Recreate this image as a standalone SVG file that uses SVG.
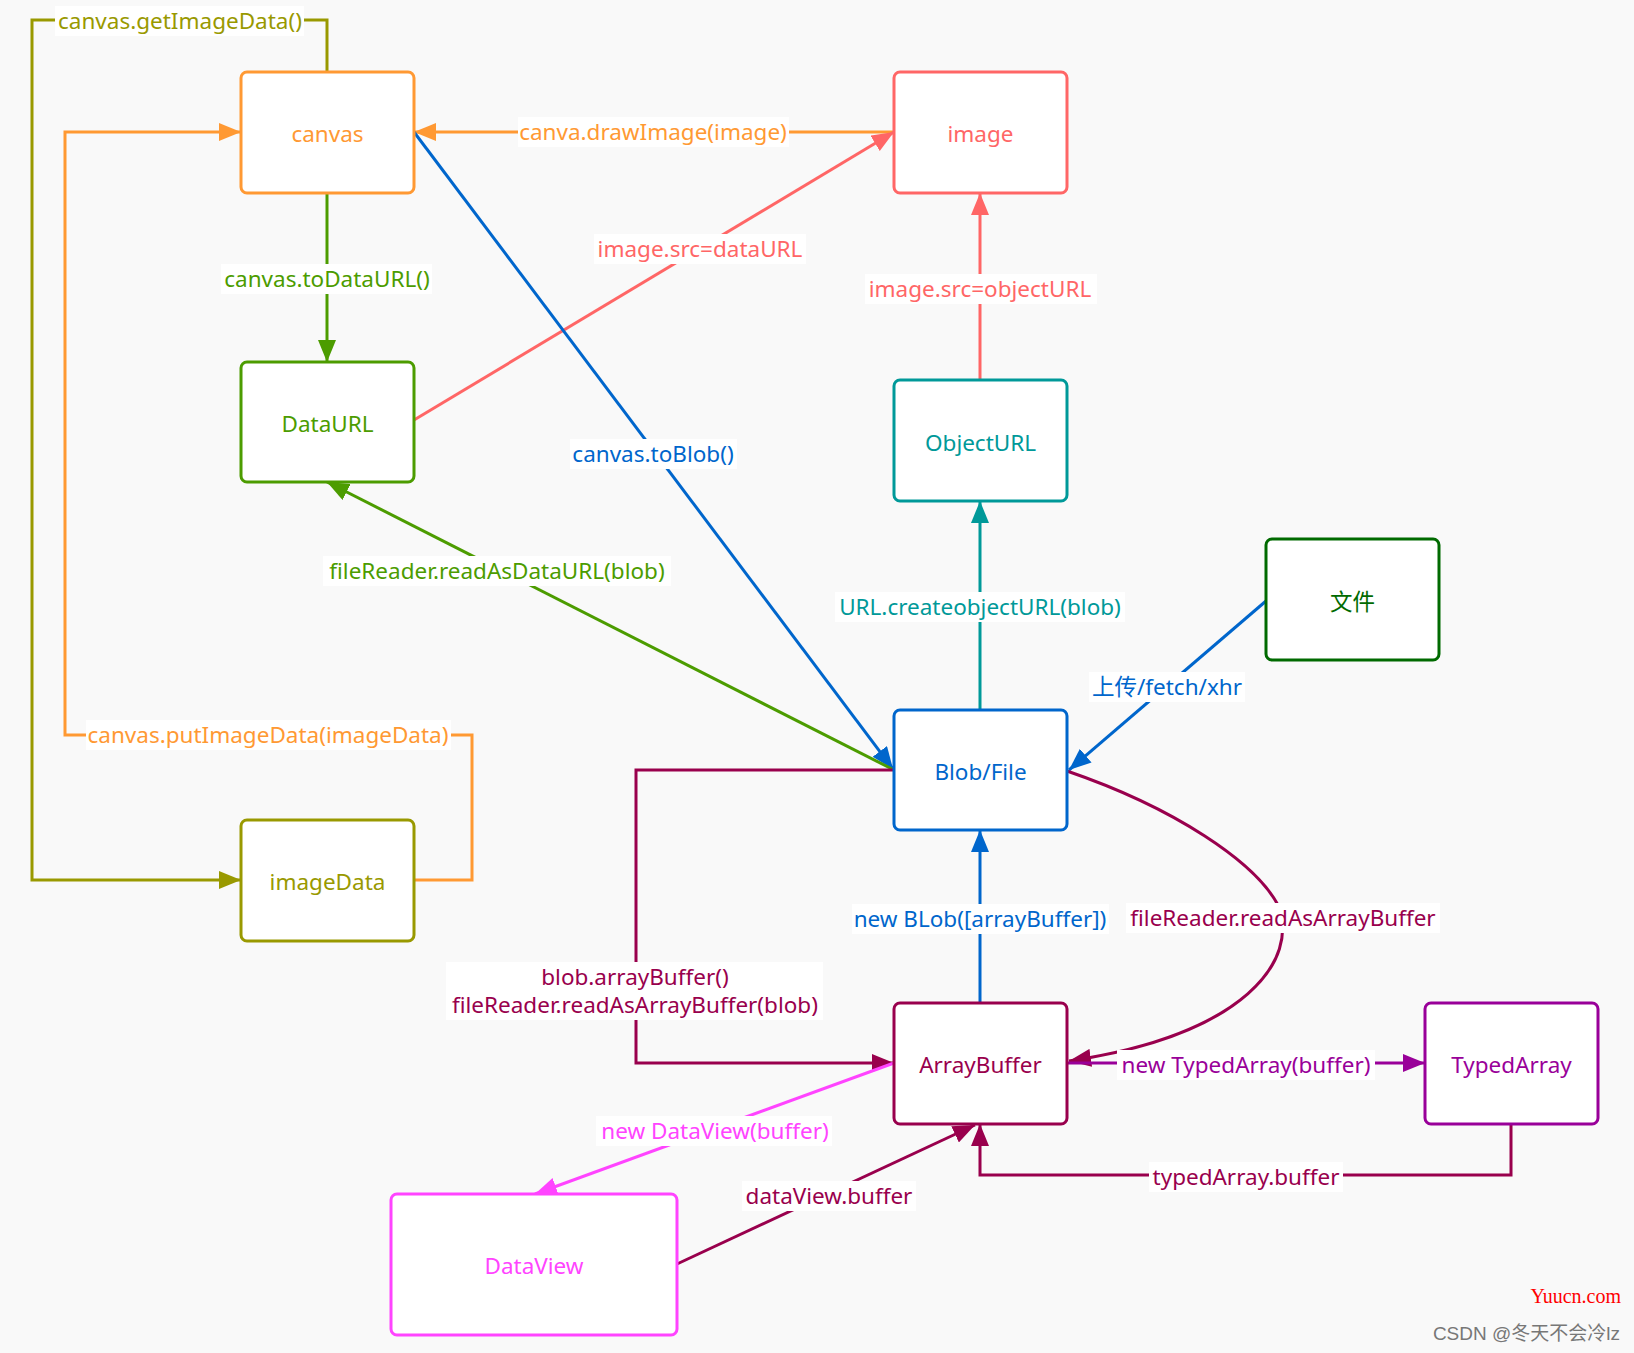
<svg xmlns="http://www.w3.org/2000/svg" width="1634" height="1353" viewBox="0 0 1634 1353">
<style>
.node rect{fill:#fff;stroke-width:3}
.node text{font-family:"Noto Sans","Noto Sans CJK SC",sans-serif;font-size:22.5px;text-anchor:middle}
.c path,.c line,.c polyline{fill:none;stroke-width:3}
.lbl{font-family:"Noto Sans","Noto Sans CJK SC",sans-serif;font-size:22.5px;text-anchor:middle}
.bg{fill:#fff}
</style>
<defs>
<marker id="aOr" markerUnits="userSpaceOnUse" markerWidth="22" markerHeight="18" refX="22" refY="9" orient="auto"><path d="M0,0 L22,9 L0,18 z" fill="#ff9933"/></marker>
<marker id="aOl" markerUnits="userSpaceOnUse" markerWidth="22" markerHeight="18" refX="22" refY="9" orient="auto"><path d="M0,0 L22,9 L0,18 z" fill="#999900"/></marker>
<marker id="aGr" markerUnits="userSpaceOnUse" markerWidth="22" markerHeight="18" refX="22" refY="9" orient="auto"><path d="M0,0 L22,9 L0,18 z" fill="#4c9c00"/></marker>
<marker id="aRd" markerUnits="userSpaceOnUse" markerWidth="22" markerHeight="18" refX="22" refY="9" orient="auto"><path d="M0,0 L22,9 L0,18 z" fill="#ff6666"/></marker>
<marker id="aBl" markerUnits="userSpaceOnUse" markerWidth="22" markerHeight="18" refX="22" refY="9" orient="auto"><path d="M0,0 L22,9 L0,18 z" fill="#0066cc"/></marker>
<marker id="aTl" markerUnits="userSpaceOnUse" markerWidth="22" markerHeight="18" refX="22" refY="9" orient="auto"><path d="M0,0 L22,9 L0,18 z" fill="#009999"/></marker>
<marker id="aCr" markerUnits="userSpaceOnUse" markerWidth="22" markerHeight="18" refX="22" refY="9" orient="auto"><path d="M0,0 L22,9 L0,18 z" fill="#99004d"/></marker>
<marker id="aPu" markerUnits="userSpaceOnUse" markerWidth="22" markerHeight="18" refX="22" refY="9" orient="auto"><path d="M0,0 L22,9 L0,18 z" fill="#990099"/></marker>
<marker id="aMg" markerUnits="userSpaceOnUse" markerWidth="22" markerHeight="18" refX="22" refY="9" orient="auto"><path d="M0,0 L22,9 L0,18 z" fill="#ff44ff"/></marker>
</defs>
<rect x="0" y="0" width="1634" height="1353" fill="#f9f9f9"/>

<g id="connectors" class="c">
  <polyline points="327,72 327,20 32,20 32,880 241,880" stroke="#999900" marker-end="url(#aOl)"/>
  <polyline points="414,880 472,880 472,735 65,735 65,132 241,132" stroke="#ff9933" marker-end="url(#aOr)"/>
  <line x1="894" y1="132" x2="414" y2="132" stroke="#ff9933" marker-end="url(#aOr)"/>
  <line x1="327" y1="193" x2="327" y2="362" stroke="#4c9c00" marker-end="url(#aGr)"/>
  <line x1="414" y1="420" x2="894" y2="132" stroke="#ff6666" marker-end="url(#aRd)"/>
  <line x1="414" y1="132" x2="893" y2="769" stroke="#0066cc" marker-end="url(#aBl)"/>
  <line x1="894" y1="770" x2="327" y2="482" stroke="#4c9c00" marker-end="url(#aGr)"/>
  <line x1="980" y1="380" x2="980" y2="193" stroke="#ff6666" marker-end="url(#aRd)"/>
  <line x1="980" y1="710" x2="980" y2="501" stroke="#009999" marker-end="url(#aTl)"/>
  <line x1="1266" y1="601" x2="1069" y2="770" stroke="#0066cc" marker-end="url(#aBl)"/>
  <line x1="980" y1="1003" x2="980" y2="830" stroke="#0066cc" marker-end="url(#aBl)"/>
  <path d="M1067,771 C1175,808 1255,862 1278,905 C1300,960 1245,1035 1069,1061" stroke="#99004d" marker-end="url(#aCr)"/>
  <polyline points="894,770 636,770 636,1063 894,1063" stroke="#99004d" marker-end="url(#aCr)"/>
  <line x1="1067" y1="1063" x2="1425" y2="1063" stroke="#990099" marker-end="url(#aPu)"/>
  <polyline points="1511,1124 1511,1175 980,1175 980,1124" stroke="#99004d" marker-end="url(#aCr)"/>
  <line x1="894" y1="1063" x2="535" y2="1194" stroke="#ff44ff" marker-end="url(#aMg)"/>
  <line x1="677" y1="1264" x2="975" y2="1125" stroke="#99004d" marker-end="url(#aCr)"/>

  <g id="labels">
    <rect class="bg" x="55" y="6" width="249" height="30"/>
    <text class="lbl" x="180" y="29" fill="#999900">canvas.getImageData()</text>
    <rect class="bg" x="86" y="720" width="365" height="30"/>
    <text class="lbl" x="268" y="743" fill="#ff9933">canvas.putImageData(imageData)</text>
    <rect class="bg" x="518" y="117" width="271" height="30"/>
    <text class="lbl" x="653" y="140" fill="#ff9933">canva.drawImage(image)</text>
    <rect class="bg" x="221" y="264" width="211" height="30"/>
    <text class="lbl" x="327" y="287" fill="#4c9c00">canvas.toDataURL()</text>
    <rect class="bg" x="594" y="234" width="212" height="30"/>
    <text class="lbl" x="700" y="257" fill="#ff6666">image.src=dataURL</text>
    <rect class="bg" x="570" y="439" width="167" height="30"/>
    <text class="lbl" x="653" y="462" fill="#0066cc">canvas.toBlob()</text>
    <rect class="bg" x="323" y="556" width="348" height="30"/>
    <text class="lbl" x="497" y="579" fill="#4c9c00">fileReader.readAsDataURL(blob)</text>
    <rect class="bg" x="865" y="274" width="232" height="30"/>
    <text class="lbl" x="980" y="297" fill="#ff6666">image.src=objectURL</text>
    <rect class="bg" x="835" y="592" width="290" height="30"/>
    <text class="lbl" x="980" y="615" fill="#009999">URL.createobjectURL(blob)</text>
    <rect class="bg" x="1089" y="672" width="156" height="30"/>
    <text class="lbl" x="1167" y="695" fill="#0066cc">上传/fetch/xhr</text>
    <rect class="bg" x="852" y="904" width="257" height="30"/>
    <text class="lbl" x="980" y="927" fill="#0066cc">new BLob([arrayBuffer])</text>
    <rect class="bg" x="1126" y="903" width="314" height="30"/>
    <text class="lbl" x="1283" y="926" fill="#99004d">fileReader.readAsArrayBuffer</text>
    <rect class="bg" x="446" y="962" width="377" height="58"/>
    <text class="lbl" x="635" y="985" fill="#99004d">blob.arrayBuffer()</text>
    <text class="lbl" x="635" y="1013" fill="#99004d">fileReader.readAsArrayBuffer(blob)</text>
    <rect class="bg" x="1117" y="1050" width="258" height="30"/>
    <text class="lbl" x="1246" y="1073" fill="#990099">new TypedArray(buffer)</text>
    <rect class="bg" x="1149" y="1162" width="194" height="30"/>
    <text class="lbl" x="1246" y="1185" fill="#99004d">typedArray.buffer</text>
    <rect class="bg" x="596" y="1116" width="236" height="30"/>
    <text class="lbl" x="715" y="1139" fill="#ff44ff">new DataView(buffer)</text>
    <rect class="bg" x="742" y="1181" width="174" height="30"/>
    <text class="lbl" x="829" y="1204" fill="#99004d">dataView.buffer</text>
  </g>
</g>

<g id="node-canvas" class="node"><rect x="241" y="72" width="173" height="121" rx="6" stroke="#ff9933"/><text x="327.5" y="142" fill="#ff9933">canvas</text></g>
<g id="node-image" class="node"><rect x="894" y="72" width="173" height="121" rx="6" stroke="#ff6666"/><text x="980.5" y="142" fill="#ff6666">image</text></g>
<g id="node-dataurl" class="node"><rect x="241" y="362" width="173" height="120" rx="6" stroke="#4c9c00"/><text x="327.5" y="432" fill="#4c9c00">DataURL</text></g>
<g id="node-objecturl" class="node"><rect x="894" y="380" width="173" height="121" rx="6" stroke="#009999"/><text x="980.5" y="451" fill="#009999">ObjectURL</text></g>
<g id="node-file" class="node"><rect x="1266" y="539" width="173" height="121" rx="6" stroke="#006a00"/><text x="1352.5" y="610" fill="#006a00">文件</text></g>
<g id="node-blob" class="node"><rect x="894" y="710" width="173" height="120" rx="6" stroke="#0066cc"/><text x="980.5" y="780" fill="#0066cc">Blob/File</text></g>
<g id="node-imagedata" class="node"><rect x="241" y="820" width="173" height="121" rx="6" stroke="#999900"/><text x="327.5" y="890" fill="#999900">imageData</text></g>
<g id="node-arraybuffer" class="node"><rect x="894" y="1003" width="173" height="121" rx="6" stroke="#99004d"/><text x="980.5" y="1073" fill="#99004d">ArrayBuffer</text></g>
<g id="node-typedarray" class="node"><rect x="1425" y="1003" width="173" height="121" rx="6" stroke="#990099"/><text x="1511.5" y="1073" fill="#990099">TypedArray</text></g>
<g id="node-dataview" class="node"><rect x="391" y="1194" width="286" height="141" rx="6" stroke="#ff44ff"/><text x="534" y="1274" fill="#ff44ff">DataView</text></g>

<text x="1621" y="1303" font-family="Liberation Serif, serif" font-size="20" fill="#ff0000" text-anchor="end">Yuucn.com</text>
<text x="1620" y="1340" font-family="Liberation Sans, Noto Sans CJK SC, sans-serif" font-size="19" fill="#777" text-anchor="end">CSDN @冬天不会冷lz</text>
</svg>
